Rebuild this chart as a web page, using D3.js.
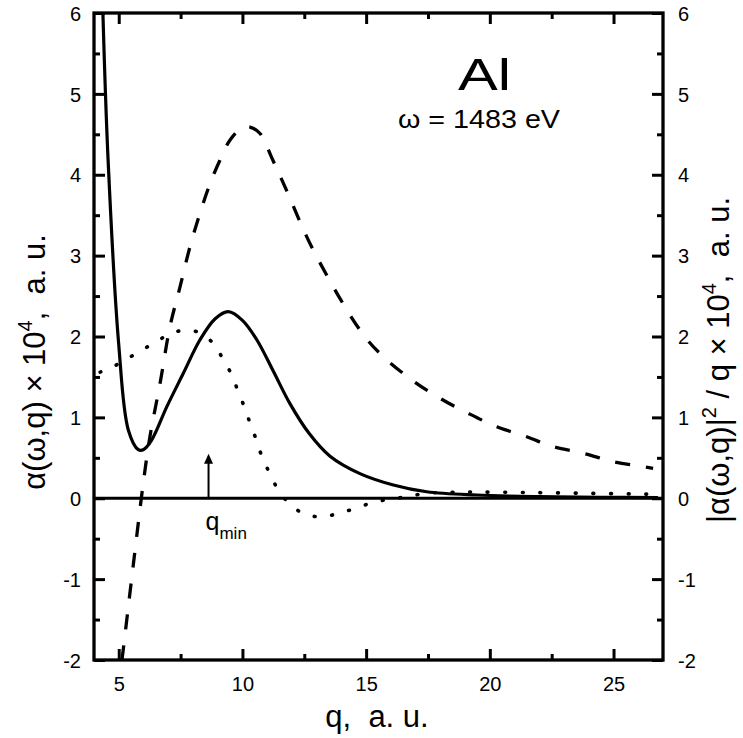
<!DOCTYPE html>
<html>
<head>
<meta charset="utf-8">
<script src="https://cdn.jsdelivr.net/npm/d3@7"></script>
<style>
  html, body { margin: 0; padding: 0; background: #fff; }
  svg { display: block; }
  text { font-family: "Liberation Sans", Arial, sans-serif; fill: #000; }
</style>
</head>
<body>
<svg id="chart" width="743" height="738"></svg>
<script>
// ---- data ----
const solidQ = [4.36, 4.57, 5.0, 5.39, 5.79, 5.99, 6.33, 6.94, 7.61, 8.28, 8.9, 9.43, 10.0, 10.58, 11.25, 11.92, 12.7, 13.54, 14.75, 16.1, 17.45, 19.47, 22.0, 24.5, 26.8];
const solidV = [6.0, 4.18, 1.9, 0.84, 0.6, 0.6, 0.72, 1.13, 1.545, 1.957, 2.22, 2.307, 2.2, 1.96, 1.57, 1.17, 0.8, 0.52, 0.305, 0.164, 0.08, 0.04, 0.02, 0.012, 0.008];

const dashQ = [5.13, 5.18, 5.59, 5.99, 6.26, 6.67, 7.07, 7.48, 7.88, 8.28, 8.69, 9.09, 9.5, 9.97, 10.3, 10.71, 11.2, 11.72, 12.86, 14.75, 15.56, 16.77, 17.99, 19.13, 20.28, 21.49, 22.57, 23.78, 24.99, 26.2, 26.6];
const dashV = [-2.0, -1.876, -0.82, 0.185, 0.76, 1.42, 2.12, 2.616, 3.11, 3.52, 3.89, 4.18, 4.43, 4.574, 4.59, 4.51, 4.2, 3.85, 3.07, 2.08, 1.79, 1.48, 1.235, 1.05, 0.885, 0.76, 0.637, 0.556, 0.452, 0.39, 0.37];

const dotQ = [4.25, 4.65, 5.32, 6.06, 6.74, 7.45, 8.15, 8.82, 9.23, 9.57, 9.83, 10.1, 10.31, 10.55, 10.78, 11.07, 11.41, 11.88, 12.53, 13.27, 13.94, 14.63, 15.36, 16.1, 16.77, 17.45, 18.5, 20.3, 23.0, 26.6];
const dotV = [1.56, 1.607, 1.722, 1.854, 1.978, 2.068, 2.06, 1.916, 1.71, 1.524, 1.318, 1.112, 0.927, 0.73, 0.522, 0.328, 0.123, -0.062, -0.198, -0.228, -0.18, -0.12, -0.043, -0.009, 0.028, 0.061, 0.075, 0.075, 0.065, 0.05];

const xMajorTicks = [5, 10, 15, 20, 25];
const xMinorTicks = [7.5, 12.5, 17.5, 22.5];
const yMajorTicks = [-2, -1, 0, 1, 2, 3, 4, 5, 6];
const yMinorTicks = [-1.5, -0.5, 0.5, 1.5, 2.5, 3.5, 4.5, 5.5];
const xDomain = [4, 27];
const yDomain = [-2, 6];
const qMin = 8.63;
const qMinArrowTop = 0.55;

// ---- layout ----
const L = 94, R = 663, T = 13, B = 660;
const svg = d3.select("#chart");
const x = d3.scaleLinear().domain(xDomain).range([L, R]);
const y = d3.scaleLinear().domain(yDomain).range([B, T]);

const fontTick = 20;
const fmt = d => String(d);

function styleAxis(g, sw) {
  g.select(".domain").remove();
  g.selectAll(".tick line").attr("stroke", "#000").attr("stroke-width", sw);
  g.selectAll(".tick text").attr("font-size", fontTick).attr("fill", "#000")
    .attr("font-family", '"Liberation Sans", Arial, sans-serif');
}

// bottom
svg.append("g").attr("transform", `translate(0,${B})`)
  .call(d3.axisBottom(x).tickValues(xMajorTicks).tickSizeInner(-11).tickSizeOuter(0).tickPadding(17).tickFormat(fmt))
  .call(g => styleAxis(g, 3));
svg.append("g").attr("transform", `translate(0,${B})`)
  .call(d3.axisBottom(x).tickValues(xMinorTicks).tickSizeInner(-6).tickSizeOuter(0).tickFormat(""))
  .call(g => styleAxis(g, 3));
// top
svg.append("g").attr("transform", `translate(0,${T})`)
  .call(d3.axisTop(x).tickValues(xMajorTicks).tickSizeInner(-11).tickSizeOuter(0).tickFormat(""))
  .call(g => styleAxis(g, 3));
svg.append("g").attr("transform", `translate(0,${T})`)
  .call(d3.axisTop(x).tickValues(xMinorTicks).tickSizeInner(-6).tickSizeOuter(0).tickFormat(""))
  .call(g => styleAxis(g, 3));
// left
svg.append("g").attr("transform", `translate(${L},0)`)
  .call(d3.axisLeft(y).tickValues(yMajorTicks).tickSizeInner(-11).tickSizeOuter(0).tickPadding(13).tickFormat(fmt))
  .call(g => styleAxis(g, 3))
  .call(g => g.selectAll(".tick text").attr("dy", "0.36em"));
svg.append("g").attr("transform", `translate(${L},0)`)
  .call(d3.axisLeft(y).tickValues(yMinorTicks).tickSizeInner(-6).tickSizeOuter(0).tickFormat(""))
  .call(g => styleAxis(g, 3));
// right
svg.append("g").attr("transform", `translate(${R},0)`)
  .call(d3.axisRight(y).tickValues(yMajorTicks).tickSizeInner(-11).tickSizeOuter(0).tickPadding(15).tickFormat(fmt))
  .call(g => styleAxis(g, 3))
  .call(g => g.selectAll(".tick text").attr("dy", "0.36em"));
svg.append("g").attr("transform", `translate(${R},0)`)
  .call(d3.axisRight(y).tickValues(yMinorTicks).tickSizeInner(-6).tickSizeOuter(0).tickFormat(""))
  .call(g => styleAxis(g, 3));

// zero line
svg.append("line")
  .attr("x1", x(xDomain[0])).attr("x2", x(xDomain[1]))
  .attr("y1", y(0)).attr("y2", y(0))
  .attr("stroke", "#000").attr("stroke-width", 3);

// curves
svg.append("clipPath").attr("id", "clip")
  .append("rect").attr("x", L).attr("y", T).attr("width", R - L).attr("height", B - T);

const line = d3.line().x(d => x(d[0])).y(d => y(d[1])).curve(d3.curveCatmullRom.alpha(0.5));
const plotG = svg.append("g").attr("clip-path", "url(#clip)");

plotG.append("path").datum(d3.zip(solidQ, solidV)).attr("d", line)
  .attr("fill", "none").attr("stroke", "#000").attr("stroke-width", 3.2).attr("stroke-linejoin", "round");
plotG.append("path").datum(d3.zip(dashQ, dashV)).attr("d", line)
  .attr("fill", "none").attr("stroke", "#000").attr("stroke-width", 3.3)
  .attr("stroke-dasharray", "15,16");
plotG.append("path").datum(d3.zip(dotQ, dotV)).attr("d", line)
  .attr("fill", "none").attr("stroke", "#000").attr("stroke-width", 3.6)
  .attr("stroke-linecap", "round").attr("stroke-dasharray", "0.8,16.8");

// frame
svg.append("rect").attr("x", L).attr("y", T).attr("width", R - L).attr("height", B - T)
  .attr("fill", "none").attr("stroke", "#000").attr("stroke-width", 3.3);

// q_min arrow
const ax = x(qMin);
svg.append("line").attr("x1", ax).attr("x2", ax).attr("y1", y(0)).attr("y2", y(qMinArrowTop) + 6)
  .attr("stroke", "#000").attr("stroke-width", 2);
svg.append("path")
  .attr("d", `M${ax},${y(qMinArrowTop)} L${ax - 4.5},${y(qMinArrowTop) + 10} L${ax + 4.5},${y(qMinArrowTop) + 10} Z`)
  .attr("fill", "#000");
const qm = svg.append("text").attr("x", ax - 3).attr("y", 530).attr("font-size", 25);
qm.append("tspan").text("q");
qm.append("tspan").attr("font-size", 17).attr("dy", 9).text("min");

// annotations
svg.append("text").attr("x", 458).attr("y", 90).attr("font-size", 44)
  .attr("textLength", 53).attr("lengthAdjust", "spacingAndGlyphs").text("Al");
svg.append("text").attr("x", 398).attr("y", 128).attr("font-size", 26)
  .attr("textLength", 162).attr("lengthAdjust", "spacingAndGlyphs")
  .style("white-space", "pre").text("ω = 1483 eV");

// axis titles
svg.append("text").attr("x", 377).attr("y", 727).attr("text-anchor", "middle").attr("font-size", 31)
  .style("white-space", "pre").text("q,  a. u.");

const yl = svg.append("text").attr("transform", "translate(45,362) rotate(-90)")
  .attr("text-anchor", "middle").attr("font-size", 31).style("white-space", "pre");
yl.append("tspan").text("α(ω,q) × 10");
yl.append("tspan").attr("font-size", 20).attr("dy", -13).text("4");
yl.append("tspan").attr("dy", 13).text(",  a. u.");

const yr = svg.append("text").attr("transform", "translate(729,360) rotate(-90)")
  .attr("text-anchor", "middle").attr("font-size", 31).style("white-space", "pre");
yr.append("tspan").text("|α(ω,q)|");
yr.append("tspan").attr("font-size", 20).attr("dy", -13).text("2");
yr.append("tspan").attr("dy", 13).text(" / q × 10");
yr.append("tspan").attr("font-size", 20).attr("dy", -13).text("4");
yr.append("tspan").attr("dy", 13).text(",  a. u.");
</script>
</body>
</html>
